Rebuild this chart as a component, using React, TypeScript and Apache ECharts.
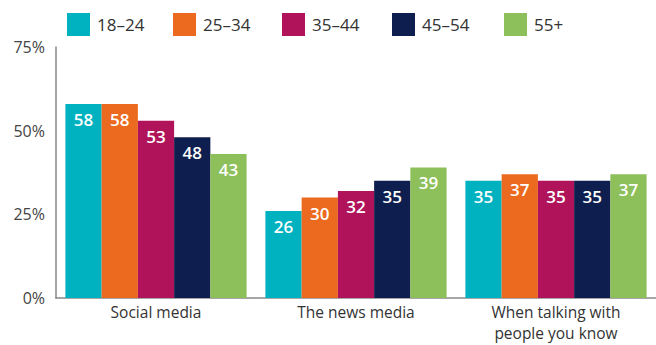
import React, { useEffect, useRef } from "react";
import * as echarts from "echarts";

const categories = ["Social media", "The news media", "When talking with\npeople you know"];
const seriesNames = ["18–24", "25–34", "35–44", "45–54", "55+"];
const colors = ["#00B2BF", "#EC6A1F", "#B01359", "#0E1F4F", "#8DC05A"];
const age18_24 = [58, 26, 35];
const age25_34 = [58, 30, 37];
const age35_44 = [53, 32, 35];
const age45_54 = [48, 35, 35];
const age55plus = [43, 39, 37];
const seriesValues = [age18_24, age25_34, age35_44, age45_54, age55plus];
const yTicks = [0, 25, 50, 75];

const FONT = "'Open Sans', sans-serif";
const legendLefts = [67, 173, 282, 392, 504];

export default function App() {
  const ref = useRef<HTMLDivElement>(null);
  useEffect(() => {
    document.body.style.margin = "0";
    if (!ref.current) return;
    const chart = echarts.init(ref.current, undefined, { renderer: "svg" });
    chart.setOption({
      animation: false,
      textStyle: { fontFamily: FONT },
      legend: seriesNames.map((name, i) => ({
        left: legendLefts[i],
        top: 13,
        itemWidth: 23,
        itemHeight: 23,
        padding: 0,
        icon: "rect",
        textStyle: { fontSize: 17, color: "#333", fontFamily: FONT, padding: [0, 0, 0, 2] },
        data: [name],
      })),
      grid: { left: 56, top: 47, width: 606, height: 251, containLabel: false },
      xAxis: {
        type: "category",
        data: categories,
        axisLine: { lineStyle: { color: "#888", width: 1.5 } },
        axisTick: { show: false },
        axisLabel: { fontSize: 15.5, color: "#333", margin: 3, lineHeight: 21.5, fontFamily: FONT },
      },
      yAxis: {
        type: "value",
        min: yTicks[0],
        max: yTicks[yTicks.length - 1],
        interval: 25,
        splitLine: { show: false },
        axisLine: { show: true, lineStyle: { color: "#888", width: 1.5 } },
        axisTick: { show: false },
        axisLabel: { formatter: "{value}%", fontSize: 16, color: "#444", margin: 11, fontFamily: FONT },
      },
      series: seriesNames.map((name, i) => ({
        name,
        type: "bar",
        data: seriesValues[i],
        barGap: "0%",
        barCategoryGap: "9.4%",
        itemStyle: { color: colors[i] },
        label: {
          show: true,
          position: "insideTop",
          distance: 7,
          color: "#fff",
          fontSize: 17,
          fontWeight: 600,
          fontFamily: FONT,
        },
      })),
    });
    return () => chart.dispose();
  }, []);
  return <div ref={ref} style={{ width: 656, height: 345 }} />;
}
